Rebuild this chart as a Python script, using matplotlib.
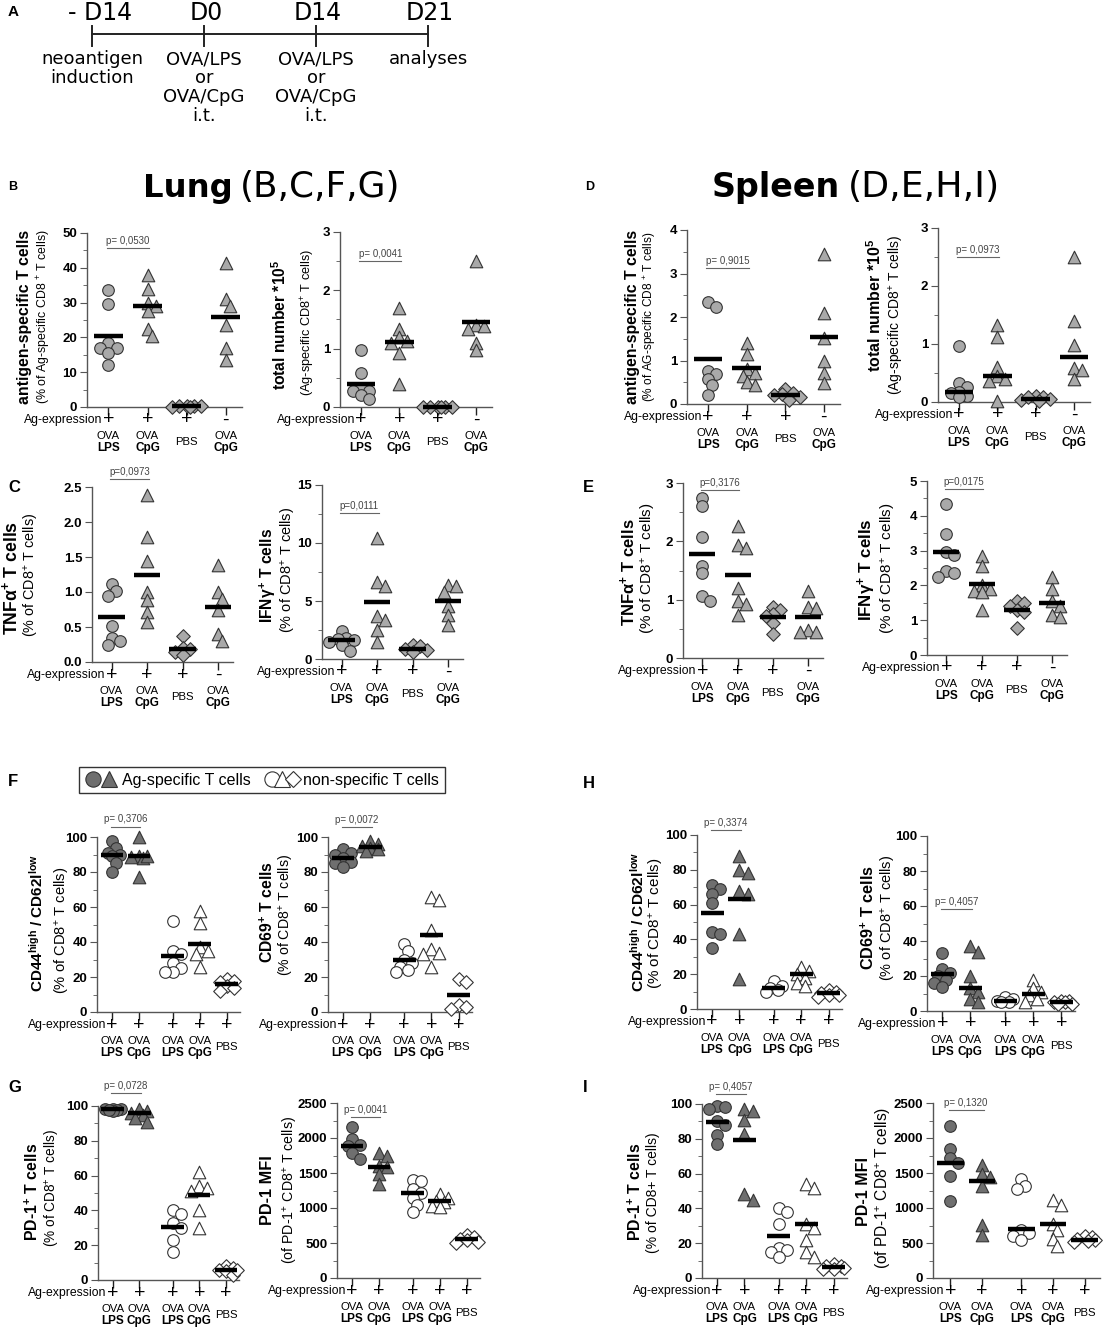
import matplotlib
matplotlib.use("Agg")
import matplotlib.pyplot as plt
import numpy as np
from matplotlib.lines import Line2D
from matplotlib.legend_handler import HandlerTuple
from matplotlib.ticker import MultipleLocator

plt.rcParams["font.family"] = ["Liberation Sans", "DejaVu Sans"]
plt.rcParams["mathtext.fontset"] = "custom"
plt.rcParams["mathtext.rm"] = "Liberation Sans"
plt.rcParams["mathtext.bf"] = "Liberation Sans:bold"
plt.rcParams["mathtext.it"] = "Liberation Sans:italic"

W, H = 1107, 1327

# ---- panel A ----
TIMELINE_DAYS = ["- D14", "D0", "D14", "D21"]
TIMELINE_EVENTS = ["neoantigen\ninduction", "OVA/LPS\nor\nOVA/CpG\ni.t.",
                   "OVA/LPS\nor\nOVA/CpG\ni.t.", "analyses"]

# ---- group labels ----
SIGN_4 = ["+", "+", "+", "-"]
TOP_4 = ["OVA", "OVA", "", "OVA"]
BOLD_4 = ["LPS", "CpG", "PBS", "CpG"]
SIGN_5 = ["+", "+", "+", "+", "+"]
TOP_5 = ["OVA", "OVA", "OVA", "OVA", ""]
BOLD_5 = ["LPS", "CpG", "LPS", "CpG", "PBS"]

# ---- B / D : antigen-specific T cells ----
LUNG_AGSPEC_PCT = [[33.5, 29.5, 18.5, 17.0, 17.0, 15.5, 12.0],
                   [38.0, 34.0, 30.0, 29.0, 27.5, 22.5, 20.5],
                   [0.3, 0.2, 0.1, 0.3, 0.2, 0.1],
                   [41.5, 31.0, 29.0, 23.5, 17.0, 13.5]]
LUNG_AGSPEC_PCT_MEAN = [20.3, 29.0, 0.2, 26.0]
LUNG_TOTAL = [[0.97, 0.59, 0.32, 0.28, 0.27, 0.20, 0.14],
              [1.70, 1.33, 1.20, 1.13, 1.10, 0.93, 0.40],
              [0.0, 0.0, 0.0, 0.0, 0.0, 0.0],
              [2.50, 1.40, 1.38, 1.33, 1.10, 0.97]]
LUNG_TOTAL_MEAN = [0.40, 1.12, 0.0, 1.45]
SPLEEN_AGSPEC_PCT = [[2.35, 2.22, 0.77, 0.70, 0.57, 0.43, 0.20],
                     [1.40, 1.15, 0.80, 0.72, 0.65, 0.50, 0.43],
                     [0.35, 0.25, 0.22, 0.20, 0.15, 0.10],
                     [3.45, 2.10, 1.52, 0.98, 0.72, 0.48]]
SPLEEN_AGSPEC_PCT_MEAN = [1.03, 0.82, 0.20, 1.55]
SPLEEN_TOTAL = [[0.97, 0.33, 0.25, 0.18, 0.15, 0.10, 0.08],
                [1.33, 1.12, 0.60, 0.45, 0.40, 0.37, 0.02],
                [0.10, 0.08, 0.05, 0.03, 0.02, 0.08],
                [2.50, 1.40, 0.98, 0.58, 0.55, 0.40]]
SPLEEN_TOTAL_MEAN = [0.18, 0.44, 0.05, 0.78]

# ---- C / E : cytokines ----
LUNG_TNF = [[1.12, 1.02, 0.95, 0.52, 0.35, 0.30, 0.25],
            [2.38, 1.78, 1.45, 1.00, 0.88, 0.72, 0.57],
            [0.37, 0.20, 0.18, 0.15, 0.10],
            [1.38, 1.00, 0.90, 0.75, 0.40, 0.30]]
LUNG_TNF_MEAN = [0.65, 1.25, 0.19, 0.79]
LUNG_IFN = [[2.4, 1.8, 1.75, 1.6, 1.5, 1.2, 0.7],
            [10.4, 6.6, 6.3, 3.7, 3.4, 2.5, 1.5],
            [1.2, 1.1, 0.9, 0.8, 0.6],
            [6.4, 6.3, 5.8, 4.6, 3.8, 2.9]]
LUNG_IFN_MEAN = [1.6, 4.9, 0.9, 5.0]
SPLEEN_TNF = [[2.75, 2.60, 2.07, 1.58, 1.45, 1.07, 0.97],
              [2.27, 1.93, 1.88, 1.20, 0.97, 0.92, 0.73],
              [0.87, 0.82, 0.75, 0.72, 0.60, 0.42],
              [1.15, 0.87, 0.85, 0.48, 0.45, 0.45]]
SPLEEN_TNF_MEAN = [1.78, 1.42, 0.71, 0.71]
SPLEEN_IFN = [[4.33, 3.48, 2.97, 2.87, 2.40, 2.35, 2.25],
              [2.85, 2.55, 2.00, 1.90, 1.85, 1.80, 1.30],
              [1.55, 1.50, 1.40, 1.30, 1.25, 0.78],
              [2.25, 1.90, 1.55, 1.40, 1.15, 1.10]]
SPLEEN_IFN_MEAN = [2.95, 2.04, 1.30, 1.50]

# ---- F / H : activation ----
LUNG_CD44 = [[98, 94, 91, 90, 89, 85, 80],
             [100, 89, 88.5, 88, 89, 77],
             [52, 35, 33, 28, 25, 23, 23],
             [58, 51, 37, 35, 33, 26],
             [19, 18, 17, 15, 14, 12]]
LUNG_CD44_MEAN = [90, 89, 32, 39, 16]
LUNG_CD69 = [[93, 91, 90, 88, 86, 85, 83],
             [98, 96, 95, 94, 93, 92],
             [39, 35, 30, 28, 26, 24, 23],
             [66, 64, 47, 36, 34, 33, 26],
             [19, 17, 4, 3, 2]]
LUNG_CD69_MEAN = [88, 94.5, 30, 44, 10]
SPLEEN_CD44 = [[71, 69, 66, 61, 44, 43, 35],
               [88, 80, 78, 68, 66, 43, 17],
               [16, 13, 12, 11, 10],
               [24, 22, 20, 18, 15, 13],
               [11, 10, 9, 8, 7, 8]]
SPLEEN_CD44_MEAN = [55, 63, 12, 20, 9]
SPLEEN_CD69 = [[33, 24, 22, 20, 18, 16, 14],
               [37, 34, 20, 13, 11, 7, 5],
               [8, 7, 6, 5, 5],
               [18, 13, 11, 9, 7, 5],
               [6, 6, 5, 5, 4, 4]]
SPLEEN_CD69_MEAN = [21, 13, 6, 9.5, 5]

# ---- G / I : PD-1 ----
LUNG_PD1 = [[98.5, 98, 97.5, 98, 97, 97.5],
            [98, 97, 96, 95, 93, 91],
            [40, 38, 33, 30, 23, 16],
            [62, 54, 53, 51, 40, 30],
            [8, 7, 6, 5, 3, 6]]
LUNG_PD1_MEAN = [98, 96, 30.5, 49, 6]
LUNG_PD1_MFI = [[2160, 1980, 1900, 1880, 1780, 1700],
                [1780, 1740, 1600, 1580, 1480, 1350],
                [1400, 1390, 1270, 1220, 1150, 1050, 950],
                [1200, 1150, 1100, 1080, 1030, 1020],
                [610, 580, 560, 550, 520, 500]]
LUNG_PD1_MFI_MEAN = [1890, 1590, 1210, 1100, 555]
SPLEEN_PD1 = [[99, 98, 97, 90, 88, 82, 77],
              [97, 96, 91, 83, 48, 45],
              [40, 38, 31, 17, 16, 15, 12],
              [54, 52, 31, 29, 22, 15, 12],
              [8, 7, 7, 6, 5, 5]]
SPLEEN_PD1_MEAN = [89.5, 79.5, 24, 31, 6.5]
SPLEEN_PD1_MFI = [[2170, 1840, 1720, 1650, 1460, 1100],
                  [1620, 1480, 1450, 1320, 760, 620],
                  [1410, 1310, 1270, 680, 640, 600, 540],
                  [1110, 1040, 770, 680, 560, 460],
                  [600, 580, 560, 550, 530, 510]]
SPLEEN_PD1_MFI_MEAN = [1640, 1390, 700, 770, 540]

P_VALUES = {"B1": "p= 0,0530", "B2": "p= 0,0041", "D1": "p= 0,9015", "D2": "p= 0,0973",
            "C1": "p=0,0973", "C2": "p=0,0111", "E1": "p=0,3176", "E2": "p=0,0175",
            "F1": "p= 0,3706", "F2": "p= 0,0072", "H1": "p= 0,3374", "H2": "p= 0,4057",
            "G1": "p= 0,0728", "G2": "p= 0,0041", "I1": "p= 0,4057", "I2": "p= 0,1320"}

LIGHT = "#a9a9a9"
DARK = "#6f6f6f"
EDGE = "#333333"
SPINE = "#555555"

X4 = [0, 1, 2, 3]
X5 = [0, 1, 2.25, 3.25, 4.25]
STYLE_4 = [("o", LIGHT), ("^", LIGHT), ("D", LIGHT), ("^", LIGHT)]
STYLE_5 = [("o", DARK), ("^", DARK), ("o", "white"), ("^", "white"), ("D", "white")]

fig = plt.figure(figsize=(W / 100, H / 100), dpi=100)
fig.patch.set_facecolor("white")
R = fig.canvas.get_renderer()

ov = fig.add_axes([0, 0, 1, 1])
ov.set_xlim(0, W)
ov.set_ylim(H, 0)
ov.axis("off")


def fit(t, target, vertical=False):
    bb = t.get_window_extent(renderer=R)
    cur = bb.height if vertical else bb.width
    t.set_fontsize(t.get_fontsize() * target / cur)
    return t


def swarm(ax, x0, values, diam, cap):
    # simple beeswarm in pixel space, offsets limited to +-cap pixels
    pts = ax.transData.transform(np.column_stack([np.full(len(values), x0), values]))
    ypx = pts[:, 1]
    unit = ax.transData.transform((1, 0))[0] - ax.transData.transform((0, 0))[0]
    step = diam * 0.35
    cands = [0.0]
    k = 1
    while k * step <= cap:
        cands += [k * step, -k * step]
        k += 1
    placed = []
    offs = np.zeros(len(values))
    for i in np.argsort(-np.asarray(values, dtype=float), kind="stable"):
        best, best_d = 0.0, -1.0
        for c in cands:
            d = min([np.hypot(c - px, ypx[i] - py) for px, py in placed] or [1e9])
            if d >= 0.62 * diam:
                best = c
                break
            if d > best_d:
                best, best_d = c, d
        offs[i] = best
        placed.append((best, ypx[i]))
    return x0 + offs / unit


def ylabels(main, sub):
    (mtxt, mlen, mx, my), (stxt, slen, sx, sy) = main, sub
    ts = ov.text(sx, sy, stxt, rotation=90, ha="center", va="center", fontsize=9)
    fit(ts, slen, vertical=True)
    tm = ov.text(mx, my, mtxt, rotation=90, ha="center", va="center",
                 fontweight="bold", fontsize=12)
    fit(tm, mlen * 0.95, vertical=True)
    bm = tm.get_window_extent(renderer=R)
    bs = ts.get_window_extent(renderer=R)
    over = bm.x1 - (bs.x0 - 1)
    if over > 0:
        shift = min(over, bm.x0 - 1)
        tm.set_x(mx - shift)
        ts.set_x(sx + (over - shift))


def panel(key, rect, groups, means, ymax, yticks, minor, py, main, sub, ydec=0):
    five = len(groups) == 5
    xs = X5 if five else X4
    styles = STYLE_5 if five else STYLE_4
    signs, tops, bolds = (SIGN_5, TOP_5, BOLD_5) if five else (SIGN_4, TOP_4, BOLD_4)
    x0, y0, x1, y1 = rect
    ax = fig.add_axes([x0 / W, 1 - y1 / H, (x1 - x0) / W, (y1 - y0) / H])
    ax.set_facecolor("none")
    ax.set_ylim(0, ymax)
    ax.set_xlim(-0.55, 4.74 if five else 3.42)
    for s in ["top", "right"]:
        ax.spines[s].set_visible(False)
    for s in ["left", "bottom"]:
        ax.spines[s].set_color(SPINE)
        ax.spines[s].set_linewidth(1.0)
    ax.set_yticks(yticks, labels=[f"{v:.{ydec}f}" for v in yticks],
                  fontweight="bold", fontsize=9.5)
    if minor:
        ax.yaxis.set_minor_locator(MultipleLocator(minor))
    ax.tick_params(axis="y", which="major", length=5, color=SPINE, pad=2)
    ax.tick_params(axis="y", which="minor", length=3, color=SPINE)
    ax.set_xticks(xs, labels=[])
    ax.tick_params(axis="x", length=6, color="#222222", width=1)

    diam = 11.5
    cap = 12 if five else 15
    for x, vals, m, (mk, fc) in zip(xs, groups, means, styles):
        xx = swarm(ax, x, vals, diam * (0.9 if mk == "D" else 1.0), cap)
        size = {"o": 70, "^": 82, "D": 48}[mk]
        ax.scatter(xx, vals, s=size, marker=mk, facecolor=fc, edgecolor=EDGE,
                   linewidth=0.8, zorder=3, clip_on=False)
        hw = 0.42 if five else 0.37
        ax.plot([x - hw, x + hw], [m, m], color="black", lw=3.2,
                solid_capstyle="butt", zorder=4, clip_on=False)

    # p-value bracket
    ax.plot([xs[0] - 0.05, xs[1] + 0.05], [py, py], color="#666666", lw=0.8,
            clip_on=False)
    ax.annotate(P_VALUES[key], xy=((xs[0] + xs[1]) / 2, py), xytext=(0, 2),
                textcoords="offset pixels", ha="center", va="bottom",
                fontsize=7, color="#444444", annotation_clip=False)

    # group labels under the axis
    def under(text, x, dy, **kw):
        ax.annotate(text, xy=(x, 0), xycoords=("data", "axes fraction"),
                    xytext=(0, dy), textcoords="offset pixels",
                    ha="center", va="center", annotation_clip=False, **kw)

    ax.annotate("Ag-expression", xy=(xs[0], 0), xycoords=("data", "axes fraction"),
                xytext=(-6, -13), textcoords="offset pixels", ha="right",
                va="center", fontsize=8.8, annotation_clip=False)
    for x, sg, tp, bd in zip(xs, signs, tops, bolds):
        under(sg, x, -13, fontsize=14)
        if tp:
            under(tp, x, -29, fontsize=8.2)
            under(bd, x, -41, fontsize=8.5, fontweight="bold")
        else:
            under(bd, x, -35, fontsize=8.2)

    ylabels(main, sub)
    return ax


TNF = r"TNFα$^{\mathbf{+}}$ T cells"
IFN = r"IFNγ$^{\mathbf{+}}$ T cells"
TOT = r"total number *10$^{\mathbf{5}}$"
CD8 = r"(% of CD8$^{+}$ T cells)"
CD44 = r"CD44$^{\mathbf{high}}$ / CD62l$^{\mathbf{low}}$"
CD69 = r"CD69$^{\mathbf{+}}$ T cells"
PD1 = r"PD-1$^{\mathbf{+}}$ T cells"
MFI_SUB = r"(of PD-1$^{+}$ CD8$^{+}$ T cells)"

panel("B1", (87, 233, 242, 407), LUNG_AGSPEC_PCT, LUNG_AGSPEC_PCT_MEAN, 50,
      [0, 10, 20, 30, 40, 50], 5, 45.7,
      ("antigen-specific T cells", 183, 25, 317),
      (r"(% of Ag-specific CD8 $^{+}$ T cells)", 175, 44, 317))
panel("B2", (340, 232, 492, 407), LUNG_TOTAL, LUNG_TOTAL_MEAN, 3,
      [0, 1, 2, 3], 0.5, 2.5,
      (TOT, 137, 280, 325), (r"(Ag-specific CD8$^{+}$ T cells)", 147, 308, 322))
panel("D1", (687, 230, 840, 404), SPLEEN_AGSPEC_PCT, SPLEEN_AGSPEC_PCT_MEAN, 4,
      [0, 1, 2, 3, 4], 0.5, 3.13,
      ("antigen-specific T cells", 183, 632, 317),
      (r"(% of AG-specific CD8 $^{+}$ T cells)", 170, 650, 317))
panel("D2", (938, 228, 1090, 402), SPLEEN_TOTAL, SPLEEN_TOTAL_MEAN, 3,
      [0, 1, 2, 3], 0.5, 2.5,
      (TOT, 140, 875, 305), (r"(Ag-specific CD8$^{+}$ T cells)", 160, 897, 315))

panel("C1", (92, 487, 233, 662), LUNG_TNF, LUNG_TNF_MEAN, 2.5,
      [0, 0.5, 1.0, 1.5, 2.0, 2.5], None, 2.62,
      (TNF, 120, 12, 578), (CD8, 125, 30, 575), ydec=1)
panel("C2", (322, 485, 463, 659), LUNG_IFN, LUNG_IFN_MEAN, 15,
      [0, 5, 10, 15], 2.5, 12.6,
      (IFN, 100, 272, 575), (CD8, 127, 289, 570))
panel("E1", (683, 483, 823, 658), SPLEEN_TNF, SPLEEN_TNF_MEAN, 3,
      [0, 1, 2, 3], 0.5, 2.88,
      (TNF, 113, 632, 572), (CD8, 132, 648, 568))
panel("E2", (927, 481, 1067, 655), SPLEEN_IFN, SPLEEN_IFN_MEAN, 5,
      [0, 1, 2, 3, 4, 5], 0.5, 4.77,
      (IFN, 108, 875, 570), (CD8, 132, 888, 568))

panel("F1", (97, 837, 240, 1012), LUNG_CD44, LUNG_CD44_MEAN, 100,
      [0, 20, 40, 60, 80, 100], 10, 106,
      (CD44, 145, 37, 923), (CD8, 128, 62, 930))
panel("F2", (328, 837, 472, 1012), LUNG_CD69, LUNG_CD69_MEAN, 100,
      [0, 20, 40, 60, 80, 100], 10, 105.7,
      (CD69, 107, 267, 912), (CD8, 122, 287, 915))
panel("H1", (697, 835, 842, 1009), SPLEEN_CD44, SPLEEN_CD44_MEAN, 100,
      [0, 20, 40, 60, 80, 100], 10, 103,
      (CD44, 147, 640, 922), (CD8, 132, 657, 923))
panel("H2", (927, 836, 1075, 1011), SPLEEN_CD69, SPLEEN_CD69_MEAN, 100,
      [0, 20, 40, 60, 80, 100], 10, 58.3,
      (CD69, 110, 873, 917), (CD8, 127, 888, 918))

panel("G1", (98, 1106, 239, 1280), LUNG_PD1, LUNG_PD1_MEAN, 100,
      [0, 20, 40, 60, 80, 100], 10, 107.5,
      (PD1, 103, 37, 1192), (CD8, 118, 52, 1188))
panel("G2", (337, 1103, 480, 1278), LUNG_PD1_MFI, LUNG_PD1_MFI_MEAN, 2500,
      [0, 500, 1000, 1500, 2000, 2500], 250, 2300,
      ("PD-1 MFI", 73, 267, 1190), (MFI_SUB, 148, 290, 1190))
panel("I1", (702, 1104, 847, 1278), SPLEEN_PD1, SPLEEN_PD1_MEAN, 100,
      [0, 20, 40, 60, 80, 100], 10, 106,
      (PD1, 103, 635, 1192), ("(% of CD8+ T cells)", 120, 653, 1193))
panel("I2", (933, 1103, 1100, 1278), SPLEEN_PD1_MFI, SPLEEN_PD1_MFI_MEAN, 2500,
      [0, 500, 1000, 1500, 2000, 2500], 250, 2400,
      ("PD-1 MFI", 72, 863, 1192), (MFI_SUB, 163, 883, 1188))

# ---- panel A: timeline ----
tl_x = [92 + 112 * i for i in range(len(TIMELINE_DAYS))]
ov.plot([tl_x[0], tl_x[-1]], [34, 34], color="#222222", lw=1.4)
for i, (x, day, ev) in enumerate(zip(tl_x, TIMELINE_DAYS, TIMELINE_EVENTS)):
    ov.plot([x, x], [26, 46], color="#222222", lw=1.4)
    ov.text(x + (8 if i == 0 else 2), 13, day, ha="center", va="center",
            fontsize=17, family="DejaVu Sans")
    ov.text(x, 50, ev, ha="center", va="top", fontsize=13, linespacing=1.08,
            family="DejaVu Sans")

# ---- headers and panel letters ----
for x, word, target in [(143, "Lung", 89), (712, "Spleen", 128)]:
    fit(ov.text(x, 197, word, ha="left", va="baseline", fontsize=22,
                fontweight="bold", family="DejaVu Sans"), target)
for x, word, target in [(240, "(B,C,F,G)", 160), (848, "(D,E,H,I)", 152)]:
    fit(ov.text(x, 197, word, ha="left", va="baseline", fontsize=22,
                family="DejaVu Sans"), target)

for letter, x, y, fs in [("A", 8, 12, 11), ("B", 8, 187, 9), ("D", 585, 187, 9),
                         ("C", 8, 488, 12), ("E", 583, 488, 12), ("F", 8, 782, 12),
                         ("H", 583, 784, 12), ("G", 8, 1088, 12), ("I", 583, 1088, 12)]:
    ov.text(x, y, letter, ha="left", va="center", fontsize=fs, fontweight="bold")

# ---- legend ----
mk = dict(linestyle="none", markersize=11, markeredgecolor=EDGE, markeredgewidth=0.8)
h_spec = (Line2D([], [], marker="o", markerfacecolor=DARK, **mk),
          Line2D([], [], marker="^", markerfacecolor=DARK, **mk))
h_non = (Line2D([], [], marker="o", markerfacecolor="white", **mk),
         Line2D([], [], marker="^", markerfacecolor="white", **mk),
         Line2D([], [], marker="D", markerfacecolor="white", **dict(mk, markersize=8.5)))
leg = fig.legend([h_spec, h_non], ["Ag-specific T cells", "non-specific T cells"],
                 handler_map={tuple: HandlerTuple(ndivide=None, pad=0.0)},
                 loc="center", bbox_to_anchor=(262 / W, 1 - 780 / H), ncol=2,
                 fontsize=11.5, frameon=True, fancybox=False, edgecolor="black",
                 handlelength=2.0, handletextpad=0.3, columnspacing=1.0,
                 borderpad=0.35)
leg.get_frame().set_linewidth(1.0)

fig.savefig("out.png", dpi=100, facecolor="white")
